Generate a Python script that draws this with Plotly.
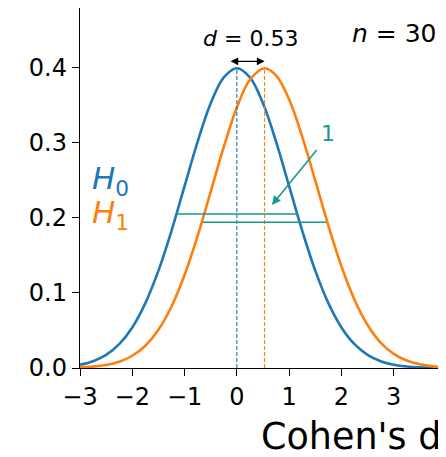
import plotly.graph_objects as go

# -- data ------------------------------------------------------------------
x_h0 = [-3, -2.75, -2.5, -2.25, -2, -1.75, -1.5, -1.25, -1, -0.75, -0.5, -0.25, 0,
        0.25, 0.5, 0.75, 1, 1.25, 1.5, 1.75, 2, 2.25, 2.5, 2.75, 3, 3.25, 3.5, 3.75, 4]
y_h0 = [0.0044, 0.0091, 0.0175, 0.0317, 0.0540, 0.0863, 0.1295, 0.1826, 0.2420, 0.3011,
        0.3521, 0.3867, 0.3989, 0.3867, 0.3521, 0.3011, 0.2420, 0.1826, 0.1295, 0.0863,
        0.0540, 0.0317, 0.0175, 0.0091, 0.0044, 0.0020, 0.0009, 0.0004, 0.0001]

x_h1 = [-3, -2.75, -2.5, -2.25, -2, -1.75, -1.5, -1.25, -1, -0.75, -0.5, -0.25, 0,
        0.25, 0.53, 0.75, 1, 1.25, 1.5, 1.75, 2, 2.25, 2.5, 2.75, 3, 3.25, 3.5, 3.75, 4]
y_h1 = [0.0008, 0.0018, 0.0040, 0.0084, 0.0163, 0.0296, 0.0508, 0.0818, 0.1237, 0.1758,
        0.2347, 0.2943, 0.3467, 0.3836, 0.3989, 0.3894, 0.3572, 0.3079, 0.2492, 0.1895,
        0.1354, 0.0909, 0.0573, 0.0339, 0.0189, 0.0099, 0.0049, 0.0022, 0.0010]

means = [0, 0.53]
peak = 0.399
effect_d = 0.53
n_obs = 30

# teal width markers (x start, x end, height)
width_x0 = [-1.17, 1.17]
width_x1 = [-0.65, 1.71]
width_y = [0.205, 0.194]

x_ticks = [-3, -2, -1, 0, 1, 2, 3, 4]
y_ticks = [0.0, 0.1, 0.2, 0.3, 0.4]

BLUE = "#1f77b4"
ORANGE = "#ff7f0e"
TEAL = "#179a8c"
FONT = "DejaVu Sans"

fig = go.Figure()

fig.add_trace(go.Scatter(x=x_h0, y=y_h0, mode="lines", line=dict(color=BLUE, width=2.6, shape="spline")))
fig.add_trace(go.Scatter(x=x_h1, y=y_h1, mode="lines", line=dict(color=ORANGE, width=2.6, shape="spline")))

# dashed lines at the means
for m, c in zip(means, [BLUE, ORANGE]):
    fig.add_trace(go.Scatter(x=[m, m], y=[0, peak], mode="lines",
                             line=dict(color=c, width=1.1, dash="4px,2px")))

# teal horizontal lines
fig.add_trace(go.Scatter(x=width_x0, y=[width_y[0]] * 2, mode="lines", line=dict(color=TEAL, width=1.5)))
fig.add_trace(go.Scatter(x=width_x1, y=[width_y[1]] * 2, mode="lines", line=dict(color=TEAL, width=1.5)))

# double arrow for d
fig.add_annotation(x=means[1], y=0.408, ax=means[0] - 0.15, ay=0.408, xref="x", yref="y",
                   axref="x", ayref="y", text="", showarrow=True, arrowhead=2, arrowside="end+start",
                   arrowsize=1.1, arrowwidth=1.4, arrowcolor="black")
fig.add_annotation(x=effect_d / 2, y=0.438, text="<i>d</i> = 0.53", showarrow=False,
                   font=dict(family=FONT, size=22, color="black"))
fig.add_annotation(x=3.86, y=0.445, text=f"<i>n</i> = {n_obs}", showarrow=False, xanchor="right",
                   font=dict(family=FONT, size=25, color="black"))

# teal arrow and label
fig.add_annotation(x=0.67, y=0.217, ax=1.55, ay=0.292, xref="x", yref="y", axref="x", ayref="y",
                   text="", showarrow=True, arrowhead=2, arrowsize=1.1, arrowwidth=1.6, arrowcolor=TEAL)
fig.add_annotation(x=1.74, y=0.312, text="1", showarrow=False, font=dict(family=FONT, size=22, color=TEAL))

# H0 / H1 labels
fig.add_annotation(x=-2.8, y=0.25, text="<i>H</i><sub>0</sub>", showarrow=False, xanchor="left",
                   font=dict(family=FONT, size=31, color=BLUE))
fig.add_annotation(x=-2.8, y=0.204, text="<i>H</i><sub>1</sub>", showarrow=False, xanchor="left",
                   font=dict(family=FONT, size=31, color=ORANGE))

# x label (off-centre, as in the reference)
fig.add_annotation(x=0.49, y=-0.189, xref="paper", yref="paper", text="Cohen's d", showarrow=False,
                   xanchor="left", yanchor="middle", font=dict(family=FONT, size=36.5, color="black"))

# page body has an 8px margin, so the figure is 8px smaller on each axis
fig.update_layout(
    width=438, height=449,
    margin=dict(l=72, r=0, t=0, b=89),
    plot_bgcolor="white", paper_bgcolor="white",
    showlegend=False,
    font=dict(family=FONT, size=24, color="black"),
)
fig.update_xaxes(range=[-3, 4], tickvals=x_ticks, ticks="outside", ticklen=7, tickwidth=1.3,
                 tickcolor="black", showline=True, linecolor="black", linewidth=1.4, mirror=True,
                 showgrid=False, zeroline=False, tickfont=dict(size=24))
fig.update_yaxes(range=[0, 0.479], tickvals=y_ticks, tickformat=".1f", ticks="outside", ticklen=7,
                 tickwidth=1.3, tickcolor="black", showline=True, linecolor="black", linewidth=1.4,
                 mirror=True, showgrid=False, zeroline=False, tickfont=dict(size=24))

fig.write_html("out.html")
